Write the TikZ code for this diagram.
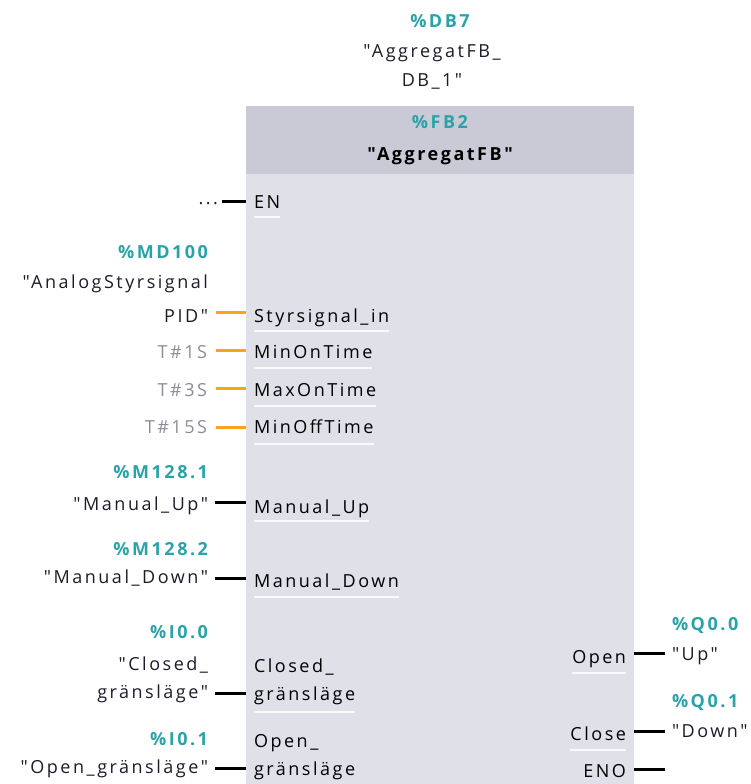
\documentclass[tikz,border=0pt]{standalone}
\usepackage{fontspec}
\setmainfont{Open Sans}[LetterSpace=14,Ligatures=TeXOff]
\newcommand\dq{\char34\relax}
\begin{document}
\begin{tikzpicture}[x=1pt,y=-1pt,
  every node/.style={inner sep=0pt,outer sep=0pt,font=\fontsize{18}{22}\selectfont},
  addr/.style={text=tealaddr,font=\fontsize{18}{22}\selectfont\bfseries},
  tag/.style={text=tagtext},
  const/.style={text=consttext},
  pinlbl/.style={text=black},
  boolwire/.style={line width=3pt,draw=black},
  numwire/.style={line width=3pt,draw=orangewire},
  uline/.style={line width=1.6pt,draw=white!85!blockbody}]
\definecolor{tealaddr}{HTML}{2AA3A8}
\definecolor{tagtext}{HTML}{1E1A2A}
\definecolor{consttext}{HTML}{8C8C98}
\definecolor{orangewire}{HTML}{FAA519}
\definecolor{blockhead}{HTML}{C9CAD6}
\definecolor{blockbody}{HTML}{DFE0E8}
\useasboundingbox (0,0) rectangle (750,784);

% block
\fill[blockbody] (246,106) rectangle (634,784);
\fill[blockhead] (246,106) rectangle (634,174);
\coordinate (bl) at (246,0);
\coordinate (br) at (634,0);

% instance / type header
\node[addr,anchor=base] (db) at (440,28) {\%DB7};
\node[tag,anchor=base] (dbn1) at (432,58) {\dq AggregatFB\_};
\node[tag,anchor=base] (dbn2) at (432,86) {DB\_1\dq};
\node[addr,anchor=base] (fb) at (440,128) {\%FB2};
\node[anchor=base,font=\fontsize{18}{22}\selectfont\bfseries] (fbn) at (440,160) {\dq AggregatFB\dq};

% EN
\node[pinlbl,anchor=base west] (pEN) at (254,208) {EN};
\node[tag,anchor=base east] (vEN) at (218,204) {...};
\draw[boolwire] ([xshift=4pt]vEN.east |- 0,201) -- (bl |- 0,201);
\draw[uline] ([yshift=-9pt]pEN.base west) -- ([yshift=-9pt]pEN.base east);

% Styrsignal_in
\node[addr,anchor=base east] (a1) at (208,258) {\%MD100};
\node[tag,anchor=base east] (t1a) at (208,288) {\dq AnalogStyrsignal};
\node[tag,anchor=base east] (t1b) at (208,322) {PID\dq};
\node[pinlbl,anchor=base west] (p1) at (254,322) {Styrsignal\_in};
\draw[numwire] ([xshift=8pt]t1b.east |- 0,312) -- (bl |- 0,312);
\draw[uline] ([yshift=-9pt]p1.base west) -- ([yshift=-9pt]p1.base east);

% MinOnTime
\node[const,anchor=base east] (c2) at (207,358) {T\#1S};
\node[pinlbl,anchor=base west] (p2) at (254,358) {MinOnTime};
\draw[numwire] ([xshift=9pt]c2.east |- 0,350) -- (bl |- 0,350);
\draw[uline] ([yshift=-10pt]p2.base west) -- ([yshift=-10pt]p2.base east);

% MaxOnTime
\node[const,anchor=base east] (c3) at (207,396) {T\#3S};
\node[pinlbl,anchor=base west] (p3) at (254,396) {MaxOnTime};
\draw[numwire] ([xshift=9pt]c3.east |- 0,388) -- (bl |- 0,388);
\draw[uline] ([yshift=-10pt]p3.base west) -- ([yshift=-10pt]p3.base east);

% MinOffTime
\node[const,anchor=base east] (c4) at (207,433) {T\#15S};
\node[pinlbl,anchor=base west] (p4) at (254,433) {MinOffTime};
\draw[numwire] ([xshift=9pt]c4.east |- 0,427) -- (bl |- 0,427);
\draw[uline] ([yshift=-11pt]p4.base west) -- ([yshift=-11pt]p4.base east);

% Manual_Up
\node[addr,anchor=base east] (a5) at (208,478) {\%M128.1};
\node[tag,anchor=base east] (t5) at (208,510) {\dq Manual\_Up\dq};
\node[pinlbl,anchor=base west] (p5) at (254,513) {Manual\_Up};
\draw[boolwire] ([xshift=7pt]t5.east |- 0,502) -- (bl |- 0,502);
\draw[uline] ([yshift=-8pt]p5.base west) -- ([yshift=-8pt]p5.base east);

% Manual_Down
\node[addr,anchor=base east] (a6) at (208,555) {\%M128.2};
\node[tag,anchor=base east] (t6) at (208,583) {\dq Manual\_Down\dq};
\node[pinlbl,anchor=base west] (p6) at (254,587) {Manual\_Down};
\draw[boolwire] ([xshift=7pt]t6.east |- 0,578) -- (bl |- 0,578);
\draw[uline] ([yshift=-10pt]p6.base west) -- ([yshift=-10pt]p6.base east);

% Closed_gränsläge
\node[addr,anchor=base east] (a7) at (208,638) {\%I0.0};
\node[tag,anchor=base east] (t7a) at (208,670) {\dq Closed\_};
\node[tag,anchor=base east] (t7b) at (208,698) {gränsläge\dq};
\node[pinlbl,anchor=base west] (p7a) at (254,672) {Closed\_};
\node[pinlbl,anchor=base west] (p7b) at (254,700) {gränsläge};
\draw[boolwire] ([xshift=7pt]t7b.east |- 0,693) -- (bl |- 0,693);
\draw[uline] ([yshift=-12pt]p7b.base west) -- ([yshift=-12pt]p7b.base east);

% Open_gränsläge
\node[addr,anchor=base east] (a8) at (208,745) {\%I0.1};
\node[tag,anchor=base east] (t8) at (208,773) {\dq Open\_gränsläge\dq};
\node[pinlbl,anchor=base west] (p8a) at (254,747) {Open\_};
\node[pinlbl,anchor=base west] (p8b) at (254,775) {gränsläge};
\draw[boolwire] ([xshift=7pt]t8.east |- 0,768) -- (bl |- 0,768);

% outputs
\node[pinlbl,anchor=base east] (qOpen) at (626,663) {Open};
\node[addr,anchor=base west] (qa1) at (672,630) {\%Q0.0};
\node[tag,anchor=base west] (qt1) at (672,660) {\dq Up\dq};
\draw[boolwire] (br |- 0,653) -- ([xshift=-7pt]qt1.west |- 0,653);
\draw[uline] ([yshift=-10pt]qOpen.base west) -- ([yshift=-10pt]qOpen.base east);

\node[pinlbl,anchor=base east] (qClose) at (626,740) {Close};
\node[addr,anchor=base west] (qa2) at (672,707) {\%Q0.1};
\node[tag,anchor=base west] (qt2) at (672,737) {\dq Down\dq};
\draw[boolwire] (br |- 0,731) -- ([xshift=-7pt]qt2.west |- 0,731);
\draw[uline] ([yshift=-10pt]qClose.base west) -- ([yshift=-10pt]qClose.base east);

\node[pinlbl,anchor=base east] (qENO) at (626,777) {ENO};
\coordinate (enoEnd) at (665,769);
\draw[boolwire] (br |- enoEnd) -- (enoEnd);
\end{tikzpicture}
\end{document}
